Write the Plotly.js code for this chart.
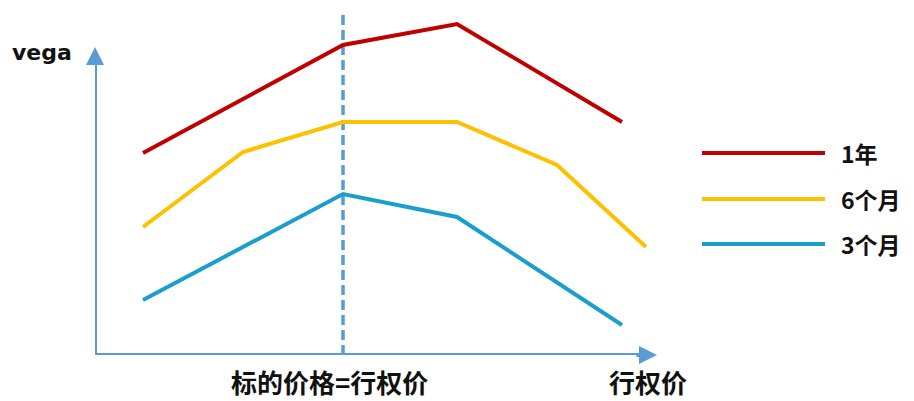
<!DOCTYPE html>
<html>
<head>
<meta charset="utf-8">
<script src="https://cdn.plot.ly/plotly-3.0.1.min.js"></script>
<style>html,body{margin:0;padding:0;background:#fff;}#chart{width:914px;height:401px;}</style>
</head>
<body>
<div id="chart"></div>
<script>
// Data (arbitrary units)
const seriesNames = ['1年', '6个月', '3个月'];
const xRed = [0.48, 2.48, 3.62, 5.27];
const yRed = [2.02, 3.10, 3.31, 2.33];
const xYellow = [0.48, 1.48, 2.48, 3.62, 4.62, 5.51];
const yYellow = [1.28, 2.03, 2.33, 2.33, 1.90, 1.08];
const xBlue = [0.48, 2.48, 3.62, 5.27];
const yBlue = [0.55, 1.61, 1.38, 0.30];
const strikeX = 2.48;
const axisLabels = ['标的价格=行权价', '行权价'];
const yAxisLabel = 'vega';

const colors = ['#C00000', '#FFC000', '#1A9FCC'];
const axisColor = '#5B9BD5';
const cjkFont = '"Noto Sans CJK SC", "Noto Sans", sans-serif';

const traces = [
  {x: xRed, y: yRed, name: seriesNames[0]},
  {x: xYellow, y: yYellow, name: seriesNames[1]},
  {x: xBlue, y: yBlue, name: seriesNames[2]}
].map((t, i) => Object.assign(t, {
  type: 'scatter', mode: 'lines', line: {color: colors[i], width: 4}, hoverinfo: 'skip'
}));

// legend geometry in paper coords
const legY = [0.5855, 0.452, 0.3217];
const shapes = [
  {type: 'line', xref: 'x', yref: 'y', x0: strikeX, x1: strikeX, y0: 0, y1: 3.40,
   line: {color: axisColor, width: 3.5, dash: '10px,5px'}, layer: 'below'},
  {type: 'line', xref: 'x', yref: 'y', x0: 0, x1: 0, y0: 0, y1: 2.95,
   line: {color: axisColor, width: 4}},
  {type: 'line', xref: 'x', yref: 'y', x0: 0, x1: 5.50, y0: 0, y1: 0,
   line: {color: axisColor, width: 4}}
];
legY.forEach((yy, i) => shapes.push({
  type: 'line', xref: 'paper', yref: 'paper', x0: 1.080, x1: 1.299, y0: yy, y1: yy,
  line: {color: colors[i], width: 4}
}));

const annotations = [
  // axis arrowheads
  {x: 0, y: 3.08, ax: 0, ay: 2.90, xref: 'x', yref: 'y', axref: 'x', ayref: 'y', text: '',
   showarrow: true, arrowhead: 2, arrowsize: 0.9, arrowwidth: 4, arrowcolor: axisColor},
  {x: 5.62, y: 0, ax: 5.40, ay: 0, xref: 'x', yref: 'y', axref: 'x', ayref: 'y', text: '',
   showarrow: true, arrowhead: 2, arrowsize: 0.9, arrowwidth: 4, arrowcolor: axisColor},
  {x: -0.0943, y: 0.878, xref: 'paper', yref: 'paper', text: '<b>' + yAxisLabel + '</b>', showarrow: false,
   font: {family: '"DejaVu Sans", sans-serif', size: 22, color: '#111'}, xanchor: 'center', yanchor: 'middle'},
  {x: 0.418, y: -0.0754, xref: 'paper', yref: 'paper', text: '<b>' + axisLabels[0] + '</b>', showarrow: false,
   font: {family: cjkFont, size: 26, color: '#111'}, xanchor: 'center', yanchor: 'middle'},
  {x: 0.984, y: -0.0754, xref: 'paper', yref: 'paper', text: '<b>' + axisLabels[1] + '</b>', showarrow: false,
   font: {family: cjkFont, size: 26, color: '#111'}, xanchor: 'center', yanchor: 'middle'}
];
legY.forEach((yy, i) => annotations.push({
  x: 1.324, y: yy, xref: 'paper', yref: 'paper', text: '<b>' + seriesNames[i] + '</b>', showarrow: false,
  font: {family: cjkFont, size: 23, color: '#111'}, xanchor: 'left', yanchor: 'middle'
}));

const layout = {
  width: 914, height: 401,
  margin: {l: 95, r: 257, t: 10, b: 46, pad: 0},
  paper_bgcolor: '#fff', plot_bgcolor: '#fff',
  showlegend: false,
  xaxis: {range: [0, 5.62], visible: false, fixedrange: true},
  yaxis: {range: [0, 3.45], visible: false, fixedrange: true},
  shapes: shapes,
  annotations: annotations
};

Plotly.newPlot('chart', traces, layout, {displayModeBar: false, staticPlot: true});
</script>
</body>
</html>
